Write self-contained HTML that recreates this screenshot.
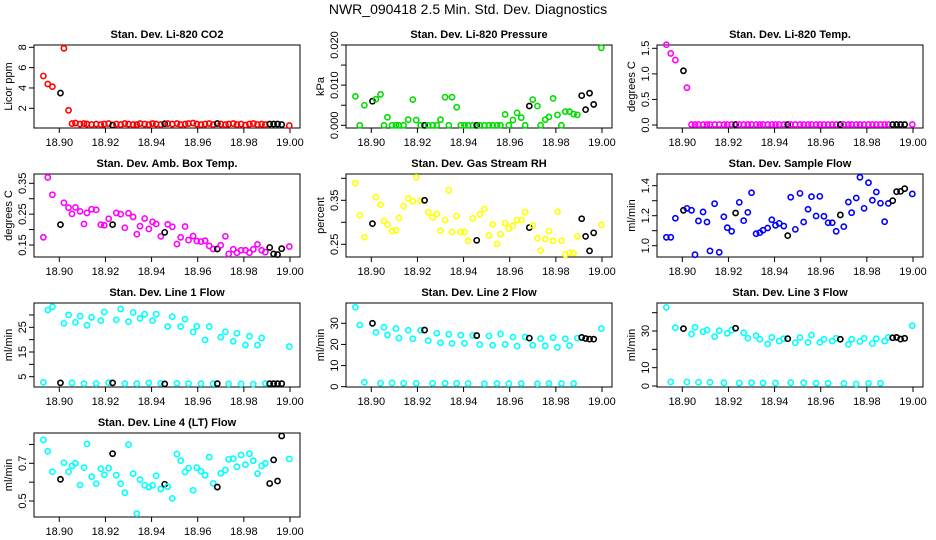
<!DOCTYPE html>
<html><head><meta charset="utf-8"><title>NWR_090418 Diagnostics</title>
<style>
html,body{margin:0;padding:0;background:#fff;}
svg{display:block;font-family:"Liberation Sans",Arial,sans-serif;}
</style></head>
<body>
<svg id="chart" width="936" height="540" viewBox="0 0 936 540" xmlns="http://www.w3.org/2000/svg">
<rect x="0" y="0" width="936" height="540" fill="#fff"/>
<text x="468" y="14" text-anchor="middle" font-size="14">NWR_090418  2.5 Min. Std. Dev. Diagnostics</text>
</svg>
<script>
const T = [18.8931,18.8950,18.8970,18.9005,18.9020,18.9040,18.9055,18.9070,18.9090,18.9107,
18.9120,18.9140,18.9160,18.9180,18.9195,18.9214,18.9231,18.9247,18.9266,18.9284,
18.9300,18.9320,18.9336,18.9350,18.9370,18.9388,18.9404,18.9420,18.9440,18.9457,
18.9470,18.9490,18.9510,18.9526,18.9545,18.9560,18.9580,18.9596,18.9614,18.9632,
18.9650,18.9667,18.9685,18.9700,18.9720,18.9734,18.9754,18.9770,18.9788,18.9807,
18.9824,18.9841,18.9859,18.9877,18.9893,18.9912,18.9929,18.9946,18.9964,18.9997];
const blackIdx = [3,16,29,42,55,56,57,58];
const xTicks = [18.90,18.92,18.94,18.96,18.98,19.00];
const xTickLabels = ["18.90","18.92","18.94","18.96","18.98","19.00"];

const co2 = [5.18,4.39,4.13,3.5,7.9,1.8,0.5,0.55,0.45,0.5,
0.45,0.4,0.45,0.4,0.45,0.5,0.35,0.45,0.4,0.5,
0.45,0.4,0.4,0.5,0.45,0.4,0.5,0.45,0.4,0.48,
0.5,0.45,0.5,0.4,0.45,0.5,0.55,0.45,0.4,0.45,
0.5,0.4,0.5,0.45,0.4,0.45,0.5,0.4,0.45,0.35,
0.45,0.5,0.4,0.45,0.4,0.45,0.45,0.45,0.4,0.3];
const press = [0.0072,0,0.005,0.006,0.0065,0.0077,0,0.002,0,0,
0,0,0.0014,0.0064,0.0013,0,0,0,0,0,
0.0014,0.007,0,0.007,0.0045,0,0,0,0,0,
0,0,0,0,0,0,0.0027,0,0.0013,0.0031,
0.0019,0,0.0048,0.0064,0.0048,0,0.0014,0.0021,0.0067,0.0026,
0,0.0034,0.0034,0.0028,0.0026,0.0074,0.0039,0.008,0.0052,0.0193];
const temp = [1.57,1.40,1.27,1.06,0.73,0.01,0.01,0.01,0.01,0.01,
0.01,0.01,0.01,0.01,0.01,0.01,0.01,0.01,0.01,0.01,
0.01,0.01,0.01,0.01,0.01,0.01,0.01,0.01,0.01,0.01,
0.01,0.01,0.01,0.01,0.01,0.01,0.01,0.01,0.01,0.01,
0.01,0.01,0.01,0.01,0.01,0.01,0.01,0.01,0.01,0.01,
0.01,0.01,0.01,0.01,0.01,0.01,0.01,0.01,0.01,0.01];
const amb = [0.175,0.369,0.313,0.216,0.287,0.271,0.251,0.272,0.259,0.218,
0.254,0.266,0.264,0.216,0.214,0.235,0.216,0.254,0.25,0.206,
0.253,0.241,0.185,0.211,0.236,0.202,0.225,0.218,0.178,0.191,
0.217,0.209,0.153,0.175,0.21,0.166,0.179,0.163,0.161,0.164,
0.147,0.137,0.137,0.149,0.178,0.121,0.136,0.125,0.133,0.133,
0.125,0.136,0.152,0.133,0.127,0.142,0.121,0.119,0.138,0.145];
const rh = [0.389,0.316,0.266,0.297,0.357,0.34,0.303,0.295,0.28,0.282,
0.31,0.337,0.354,0.348,0.402,0.349,0.35,0.323,0.311,0.319,
0.281,0.305,0.373,0.278,0.314,0.278,0.278,0.258,0.309,0.259,
0.318,0.33,0.27,0.295,0.251,0.273,0.298,0.286,0.292,0.305,
0.305,0.323,0.288,0.293,0.264,0.236,0.262,0.28,0.258,0.324,
0.258,0.227,0.231,0.23,0.268,0.308,0.268,0.235,0.276,0.294];
const sflow = [1.056,1.056,1.183,1.236,1.249,1.236,0.94,1.165,1.225,1.158,
0.965,1.28,0.956,1.193,1.12,1.096,1.218,1.289,1.167,1.222,
1.353,1.08,1.087,1.103,1.118,1.173,1.136,1.149,1.131,1.067,
1.323,1.109,1.349,1.158,1.243,1.327,1.198,1.329,1.196,1.153,
1.153,1.096,1.205,1.127,1.291,1.22,1.318,1.456,1.249,1.42,
1.303,1.358,1.283,1.16,1.282,1.3,1.36,1.362,1.38,1.345];
const line1 = [2.7,32,33.3,2.5,26.6,30,2.5,27,29.5,2.2,
25.8,29,2.2,27.7,31.2,2.6,2.5,28,32.4,2.2,
27.3,31,2.2,28.6,30.3,2.5,27.7,30.3,2.3,2.1,
25.3,29.3,2.3,25.3,28.3,2.2,23.1,25.4,2.2,19.9,
25.3,2.2,2.2,21,23.2,2.1,19.3,22.6,2.1,17.8,
21.4,2.0,17.8,20.7,2.3,2.2,2.2,2.2,2.2,17.2];
const line2 = [37.6,29.2,2.1,30,25.7,1.7,28.1,24.5,1.8,27.5,
23,1.7,26.7,22.7,1.6,26.7,26.8,21.8,1.6,25.3,
20.8,1.6,24.8,20.5,1.6,24.4,20.6,1.5,24.3,24.2,
19.9,1.4,24,19.6,1.5,25,20,1.4,23.5,19.2,
1.5,23.5,23,19.6,1.4,22.8,19.3,1.5,23.2,18.6,
1.5,22.7,19.5,1.5,23,23.3,22.8,22.5,22.5,27.5];
const line3 = [42.9,2.2,31.8,31.3,2.2,28.4,32,2.0,29.6,30.5,
2.0,26.9,30.2,1.8,28.7,30.5,31.5,1.6,29,26.1,
1.8,27.4,25.5,1.7,22.9,26.5,1.6,24.5,25.8,25.8,
1.8,23.6,26.5,1.8,23.8,27.8,1.5,23.8,25.5,1.5,
24.5,26,25.5,1.4,22.7,25.5,1.1,24.3,26,1.4,
23.2,25.8,1.5,24.5,26.5,26.3,26.5,25.6,26,32.9];
const line4 = [0.824,0.764,0.655,0.615,0.703,0.655,0.686,0.7,0.585,0.677,
0.803,0.629,0.592,0.671,0.639,0.674,0.751,0.637,0.592,0.544,
0.799,0.645,0.433,0.613,0.583,0.574,0.583,0.634,0.564,0.589,
0.576,0.514,0.749,0.714,0.654,0.674,0.557,0.677,0.658,0.637,
0.733,0.593,0.574,0.647,0.664,0.721,0.725,0.682,0.744,0.693,
0.751,0.714,0.645,0.686,0.7,0.593,0.718,0.606,0.845,0.723];

const ticksCo2 = [2,4,6,8], labCo2 = ["2","4","6","8"];
const ticksPress = [0,0.005,0.010,0.015,0.020], labPress = ["0.000","","0.010","","0.020"];
const ticksTemp = [0,0.5,1.0,1.5], labTemp = ["0.0","0.5","1.0","1.5"];
const ticksAmb = [0.15,0.20,0.25,0.30,0.35], labAmb = ["0.15","","0.25","","0.35"];
const ticksRh = [0.25,0.30,0.35,0.40], labRh = ["0.25","","0.35",""];
const ticksSf = [1.0,1.1,1.2,1.3,1.4], labSf = ["1.0","","1.2","","1.4"];
const ticksL1 = [5,10,15,20,25,30], labL1 = ["5","","15","","25",""];
const ticksL2 = [0,10,20,30], labL2 = ["0","10","20","30"];
const ticksL3 = [0,10,20,30,40], labL3 = ["0","10","","30",""];
const ticksL4 = [0.5,0.6,0.7,0.8], labL4 = ["0.5","","0.7",""];

const NS = "http://www.w3.org/2000/svg";
const svg = document.getElementById('chart');
const colLeft = [34,346,657], rowTop = [45,174,303,433], rowBot = [128,257,387,517], boxW = 266;

function mk(tag, attrs, parent){
  const e = document.createElementNS(NS, tag);
  for (const k in attrs) e.setAttribute(k, attrs[k]);
  (parent||svg).appendChild(e);
  return e;
}

const panels = [
 {name:'co2', title:'Stan. Dev. Li-820 CO2', ylab:'Licor ppm', color:'#ff0000', vals:co2, ticks:ticksCo2, labs:labCo2, ya:[8,47.3,2,108.3], c:0, r:0},
 {name:'pressure', title:'Stan. Dev. Li-820 Pressure', ylab:'kPa', color:'#00dd00', vals:press, ticks:ticksPress, labs:labPress, ya:[0.02,45,0,125.3], c:1, r:0},
 {name:'temp', title:'Stan. Dev. Li-820 Temp.', ylab:'degrees C', color:'#ff00ff', vals:temp, ticks:ticksTemp, labs:labTemp, ya:[1.5,48.3,0,125], c:2, r:0},
 {name:'amb-box-temp', title:'Stan. Dev. Amb. Box Temp.', ylab:'degrees C', color:'#ff00ff', vals:amb, ticks:ticksAmb, labs:labAmb, ya:[0.35,183.3,0.15,245], c:0, r:1},
 {name:'gas-rh', title:'Stan. Dev. Gas Stream RH', ylab:'percent', color:'#ffff00', vals:rh, ticks:ticksRh, labs:labRh, ya:[0.35,200.3,0.25,244.3], c:1, r:1},
 {name:'sample-flow', title:'Stan. Dev. Sample Flow', ylab:'ml/min', color:'#0000ff', vals:sflow, ticks:ticksSf, labs:labSf, ya:[1.4,185.7,1.0,245.7], c:2, r:1},
 {name:'line1-flow', title:'Stan. Dev. Line 1 Flow', ylab:'ml/min', color:'#00ffff', vals:line1, ticks:ticksL1, labs:labL1, ya:[25,327.3,5,376.7], c:0, r:2},
 {name:'line2-flow', title:'Stan. Dev. Line 2 Flow', ylab:'ml/min', color:'#00ffff', vals:line2, ticks:ticksL2, labs:labL2, ya:[30,323.3,0,386.7], c:1, r:2},
 {name:'line3-flow', title:'Stan. Dev. Line 3 Flow', ylab:'ml/min', color:'#00ffff', vals:line3, ticks:ticksL3, labs:labL3, ya:[30,331,0,386], c:2, r:2},
 {name:'line4-flow', title:'Stan. Dev. Line 4 (LT) Flow', ylab:'ml/min', color:'#00ffff', vals:line4, ticks:ticksL4, labs:labL4, ya:[0.7,463.3,0.5,501], c:0, r:3}
];

panels.forEach(p => {
  const L = colLeft[p.c], top = rowTop[p.r], bot = rowBot[p.r];
  const xs = t => L + 25.3 + (t - 18.90) / 0.1 * 230.7;
  const ys = v => p.ya[1] + (v - p.ya[0]) * (p.ya[3] - p.ya[1]) / (p.ya[2] - p.ya[0]);
  const g = mk('g', {});
  
  
  const box = mk('rect', {x:L, y:top, width:boxW, height:bot-top, fill:'none', stroke:'#000', 'stroke-width':1}, g);
  
  
  const tt = mk('text', {x:L+boxW/2, y:top-7, 'text-anchor':'middle', 'font-size':11, 'font-weight':'bold'}, g);
  tt.textContent = p.title;
  
  
  const yt = mk('text', {x:0, y:0, 'text-anchor':'middle', 'font-size':11, transform:`translate(${L-22},${(top+bot)/2}) rotate(-90)`}, g);
  yt.textContent = p.ylab;
  
  
  xTicks.forEach((t, i) => {
    const x = xs(t);
    const tk = mk('line', {x1:x, x2:x, y1:bot, y2:bot+5, stroke:'#000'}, g);
    
    
    const lb = mk('text', {x:x, y:bot+18, 'text-anchor':'middle', 'font-size':11}, g);
    lb.textContent = xTickLabels[i];
    
    
  });
  p.ticks.forEach((v, i) => {
    const y = ys(v);
    const tk = mk('line', {x1:L-5, x2:L, y1:y, y2:y, stroke:'#000'}, g);
    
    
    if (p.labs[i]) {
      const lb = mk('text', {x:0, y:0, 'text-anchor':'middle', 'font-size':11, transform:`translate(${L-8},${y}) rotate(-90)`}, g);
      lb.textContent = p.labs[i];
      
      
    }
  });
  p.vals.forEach((v, i) => {
    if (v === null || v === undefined) return;
    const black = blackIdx.indexOf(i) >= 0;
    const c = mk('circle', {cx:xs(T[i]), cy:ys(v), r:2.6, fill:'none', stroke: black ? '#000' : p.color, 'stroke-width':1.6}, g);
    
    
  });
});
</script>
</body></html>
